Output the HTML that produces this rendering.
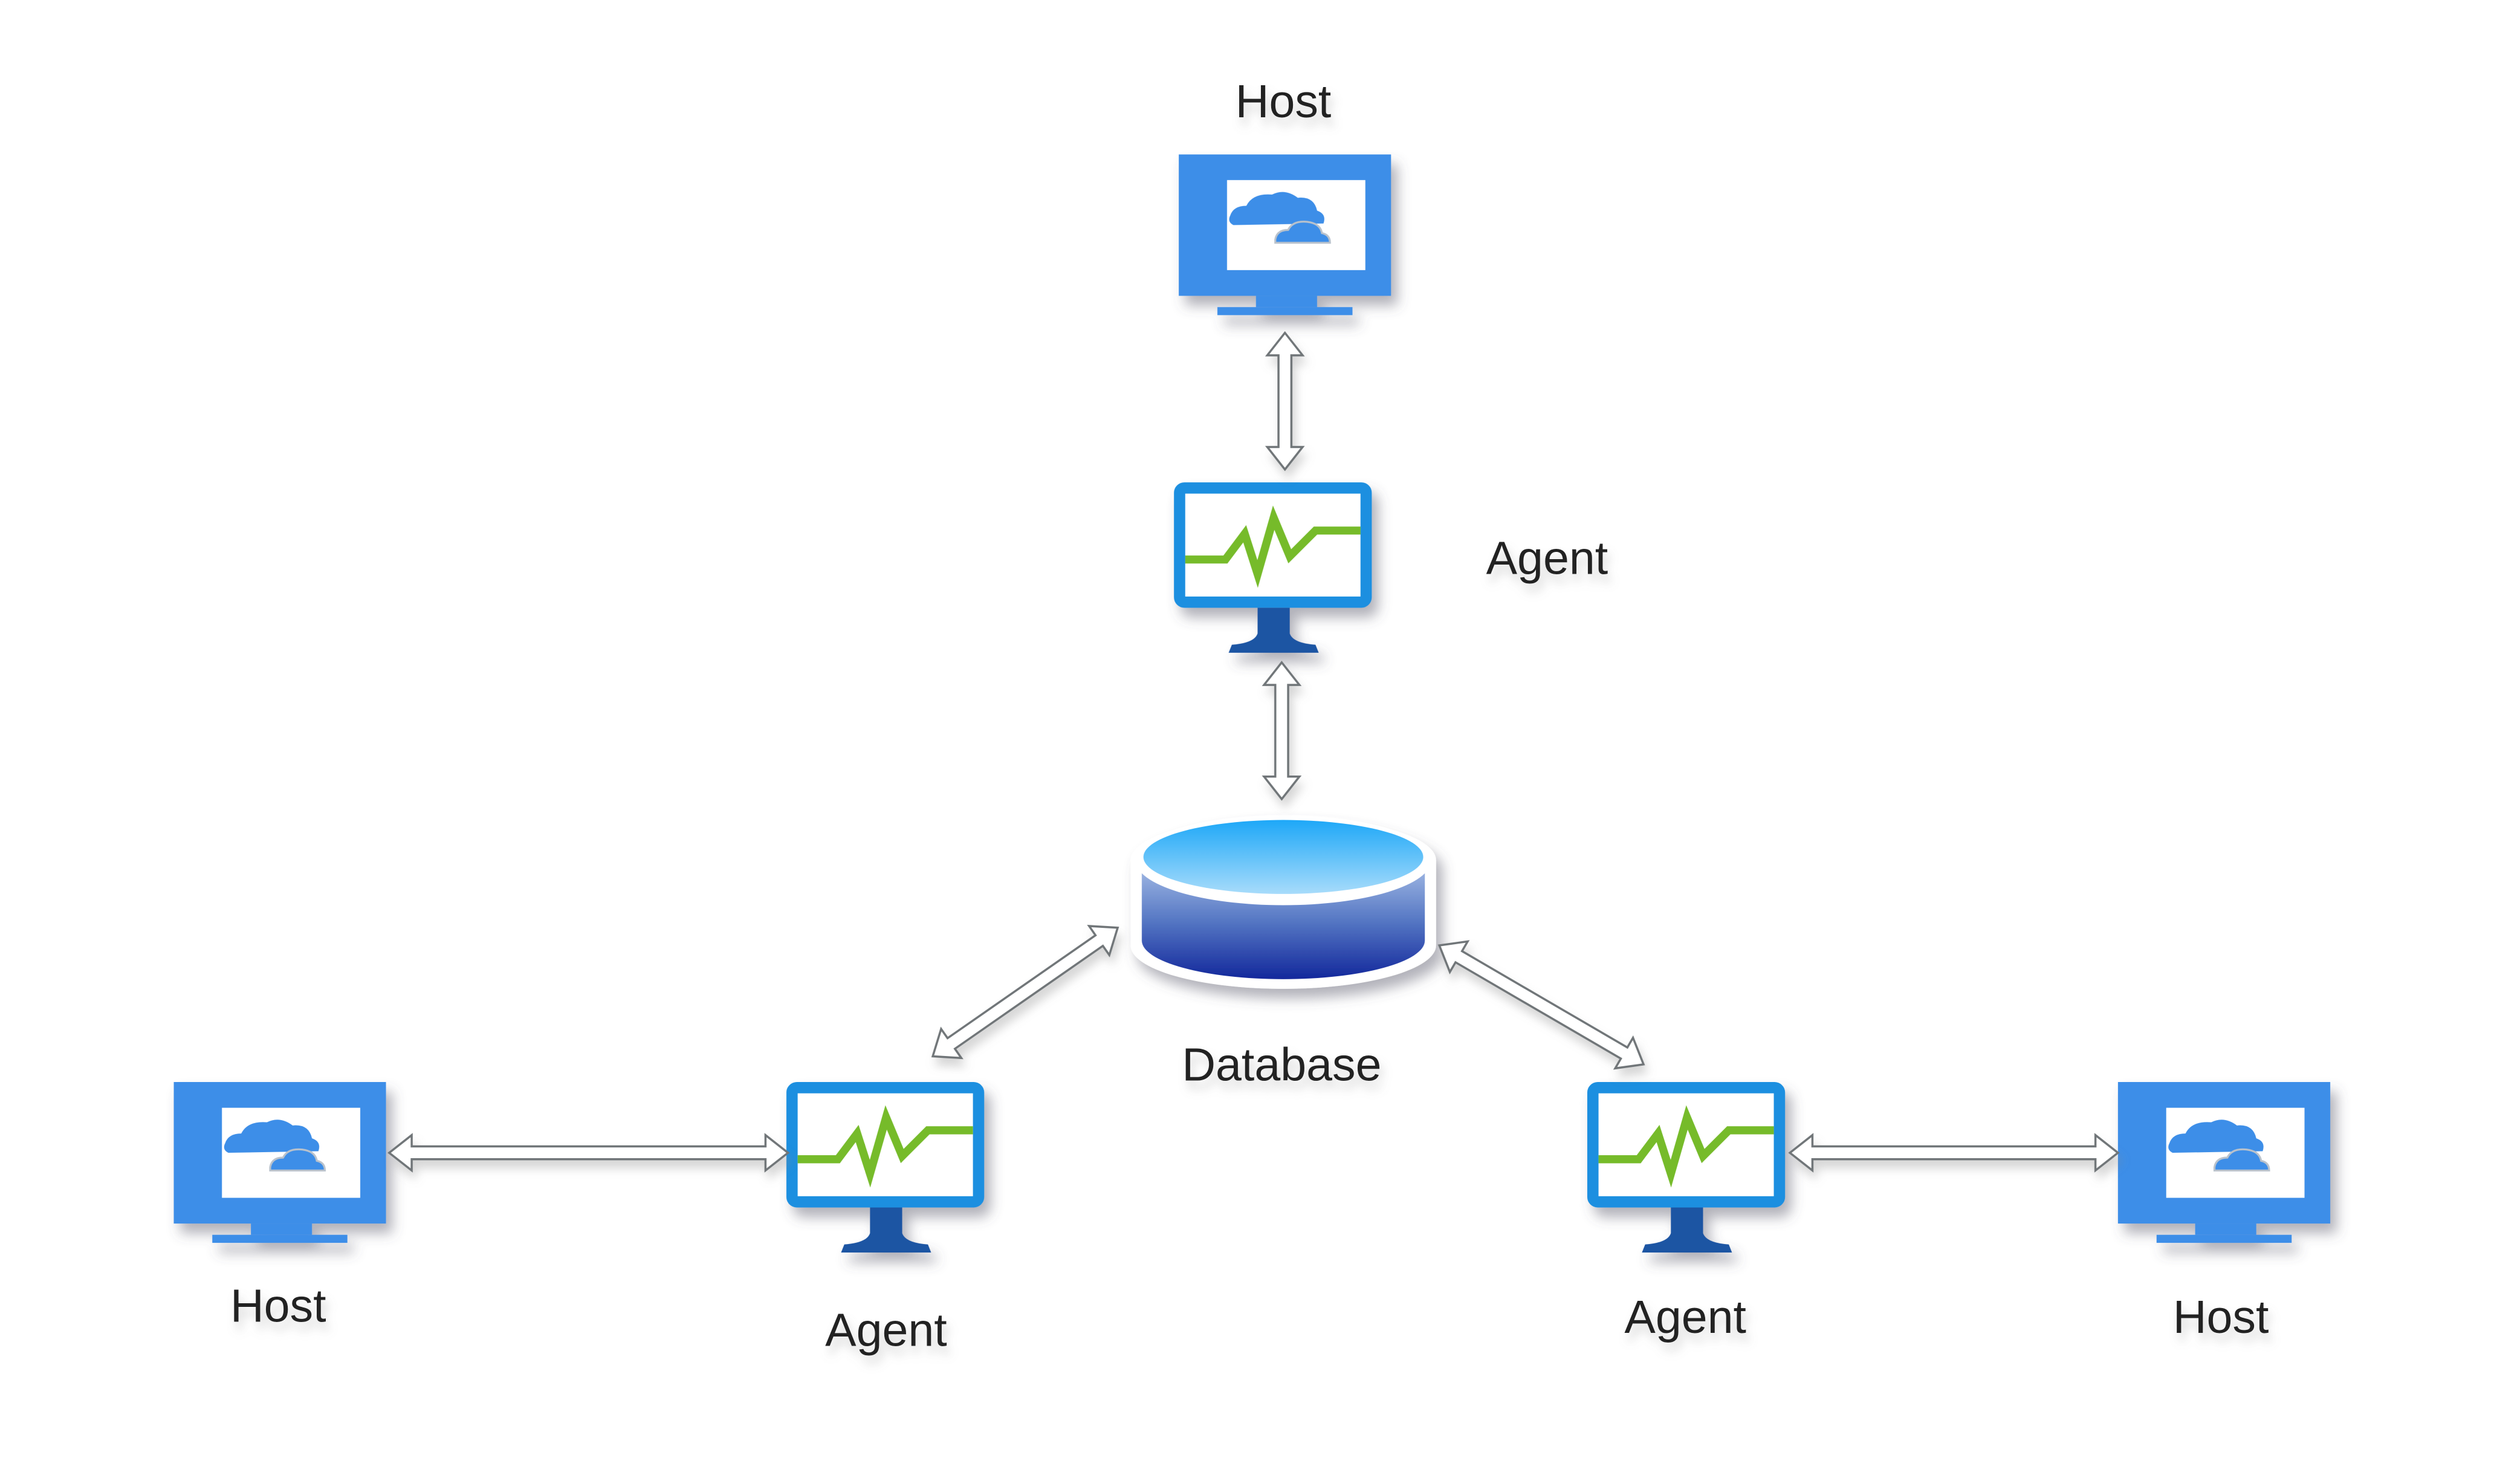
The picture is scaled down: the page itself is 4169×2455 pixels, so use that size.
<!DOCTYPE html>
<html><head><meta charset="utf-8"><style>
html,body{margin:0;padding:0;background:#fff;}
svg{display:block;}
text{font-family:"Liberation Sans",sans-serif;font-size:29px;fill:#222;text-anchor:middle;}
</style></head><body>
<svg width="4169" height="2455" viewBox="0 0 1567 923" preserveAspectRatio="none" xmlns="http://www.w3.org/2000/svg">
<defs>
<filter id="sh" x="-30%" y="-30%" width="160%" height="170%"><feDropShadow dx="4" dy="6" stdDeviation="4" flood-color="#556" flood-opacity="0.45"/></filter>
<filter id="ts" x="-20%" y="-40%" width="140%" height="200%"><feDropShadow dx="2" dy="5" stdDeviation="3" flood-color="#888" flood-opacity="0.35"/></filter>
<linearGradient id="dbTop" x1="0" y1="0" x2="0" y2="1"><stop offset="0" stop-color="#1ea8f8"/><stop offset="1" stop-color="#a8dcfb"/></linearGradient>
<linearGradient id="dbBody" x1="0" y1="0" x2="0" y2="1"><stop offset="0" stop-color="#a6bde6"/><stop offset="0.5" stop-color="#5577c4"/><stop offset="1" stop-color="#13289c"/></linearGradient>
<g id="host">
 <rect x="0" y="0" width="132" height="88" fill="#3d8ee8"/>
 <rect x="30" y="16" width="86" height="56" fill="#fff"/>
 <path d="M32 38 q2-6 10-6 q4-8 16-7 q8-4 16 2 q10-1 12 8 q6 2 4 8 l-56 1 q-4-2-2-6z" fill="#3d8ee8"/>
 <path d="M60 53 q1-6 8-6 q3-6 12-5 q8 1 9 7 q5 1 5 6 l-34 0z" fill="#3d8ee8" stroke="#b9c2cc" stroke-width="1.2"/>
 <rect x="48" y="88" width="38" height="7" fill="#3d8ee8"/>
 <rect x="24" y="95" width="84" height="5" fill="#3d8ee8"/>
</g>
<g id="agent">
 <rect x="3.5" y="3.5" width="116" height="71" rx="3" fill="#fff" stroke="#1a8fe0" stroke-width="7"/>
 <polyline points="7,48 32,48 44,32 52,57 62,22 72,46 88,30 116,30" fill="none" stroke="#76bb2c" stroke-width="5"/>
 <path d="M52 78 L72 78 L72 94 Q74 100 88 101 L90 106 L34 106 L36 101 Q50 100 52 94Z" fill="#1f55a3"/>
</g>
</defs>

<g filter="url(#ts)">
<text x="798" y="73">Host</text>
<text x="962" y="357">Agent</text>
<text x="797" y="672">Database</text>
<text x="173" y="822">Host</text>
<text x="551" y="837">Agent</text>
<text x="1048" y="829">Agent</text>
<text x="1381" y="829">Host</text>
</g>

<g filter="url(#sh)">
<use href="#host" x="733" y="96"/>
<use href="#host" x="108" y="673"/>
<use href="#host" x="1317" y="673"/>
<use href="#agent" x="730" y="300"/>
<use href="#agent" x="489" y="673"/>
<use href="#agent" x="987" y="673"/>
</g>

<g filter="url(#sh)">
<path d="M703 535 L703 588 A95 27 0 0 0 893 588 L893 535 A95 27 0 0 0 703 535Z" fill="#fff"/>
<path d="M710 537 L710 585 A88 24 0 0 0 886 585 L886 537Z" fill="url(#dbBody)"/>
<ellipse cx="798" cy="535" rx="92" ry="28" fill="#fff"/>
<ellipse cx="798" cy="533" rx="87" ry="23" fill="url(#dbTop)"/>
</g>

<g id="arrows" fill="#fff" stroke="#6f7578" stroke-width="1.3" filter="url(#ts)"></g>
<script>
(function(){
 var g=document.getElementById('arrows');
 function arrow(x1,y1,x2,y2){
  var dx=x2-x1,dy=y2-y1,L=Math.hypot(dx,dy),ux=dx/L,uy=dy/L,nx=-uy,ny=ux;
  var w=4,hw=11,hl=14;
  var pts=[[0,0],[hl,hw],[hl,w],[L-hl,w],[L-hl,hw],[L,0],[L-hl,-hw],[L-hl,-w],[hl,-w],[hl,-hw]];
  var s=pts.map(function(p){return (x1+ux*p[0]+nx*p[1]).toFixed(2)+','+(y1+uy*p[0]+ny*p[1]).toFixed(2);}).join(' ');
  var e=document.createElementNS('http://www.w3.org/2000/svg','polygon');
  e.setAttribute('points',s);g.appendChild(e);
 }
 arrow(799,207,799,292);
 arrow(797,412,797,497);
 arrow(580,657,695,577);
 arrow(895,588,1022,662);
 arrow(242,717,490,717);
 arrow(1113,717,1317,717);
})();
</script>
</svg>
</body></html>
